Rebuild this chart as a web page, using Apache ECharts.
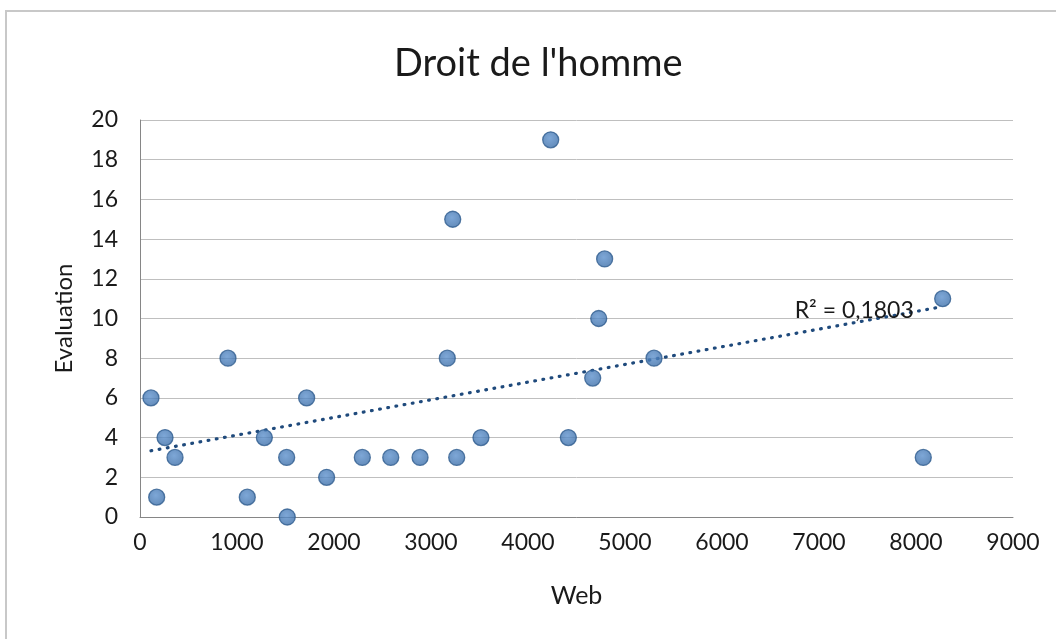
<!DOCTYPE html>
<html>
<head>
<meta charset="utf-8">
<script src="https://cdn.jsdelivr.net/npm/echarts@6/dist/echarts.min.js"></script>
<style>
  html, body { margin: 0; padding: 0; background: #ffffff; }
  #chart { width: 1056px; height: 639px; }
</style>
</head>
<body>
<div id="chart"></div>
<script>
// Web visibility vs. evaluation score
const webValues = [113, 172, 258, 361, 907, 1106, 1282, 1512, 1518, 1718, 1924,
                   2292, 2585, 2887, 3168, 3224, 3265, 3515, 4234, 4416, 4667,
                   4729, 4790, 5299, 8075, 8275];
const evalValues = [6, 1, 4, 3, 8, 1, 4, 3, 0, 6, 2,
                    3, 3, 3, 8, 15, 3, 4, 19, 4, 7,
                    10, 13, 8, 3, 11];
const xTicks = { min: 0, max: 9000, step: 1000 };
const yTicks = { min: 0, max: 20, step: 2 };
const titleText = "Droit de l'homme";
const xName = 'Web';
const yName = 'Evaluation';
const r2Text = 'R² = 0,1803';

const points = webValues.map((x, i) => [x, evalValues[i]]);

// Least-squares linear trend across the data range
const n = points.length;
const mx = webValues.reduce((a, b) => a + b, 0) / n;
const my = evalValues.reduce((a, b) => a + b, 0) / n;
let sxy = 0, sxx = 0;
for (let i = 0; i < n; i++) {
  sxy += (webValues[i] - mx) * (evalValues[i] - my);
  sxx += (webValues[i] - mx) * (webValues[i] - mx);
}
const slope = sxy / sxx;
const intercept = my - slope * mx;
const xMin = Math.min(...webValues);
const xMax = Math.max(...webValues);
const trend = [[xMin, intercept + slope * xMin], [xMax, intercept + slope * xMax]];

const font = 'Lato, "Open Sans", sans-serif';
const textColor = '#1a1a1a';

const chart = echarts.init(document.getElementById('chart'), null, { renderer: 'canvas' });
chart.setOption({
  backgroundColor: '#ffffff',
  animation: false,
  title: {
    text: titleText,
    left: 389,
    top: 40,
    textStyle: { fontFamily: font, fontSize: 38, fontWeight: 'normal', color: textColor }
  },
  grid: { left: 140, right: 43, top: 120, bottom: 122, containLabel: false },
  xAxis: {
    type: 'value',
    min: xTicks.min, max: xTicks.max, interval: xTicks.step,
    name: xName,
    nameLocation: 'middle',
    nameGap: 66,
    nameTextStyle: { fontFamily: font, fontSize: 25, color: textColor },
    axisLine: { show: true, lineStyle: { color: '#868686', width: 1 } },
    axisTick: { show: false },
    splitLine: { show: false },
    axisLabel: { fontFamily: font, fontSize: 23, color: textColor, margin: 14,
                 formatter: v => String(v) }
  },
  yAxis: {
    type: 'value',
    min: yTicks.min, max: yTicks.max, interval: yTicks.step,
    name: yName,
    nameLocation: 'middle',
    nameGap: 64,
    nameRotate: 90,
    nameTextStyle: { fontFamily: font, fontSize: 24, color: textColor },
    axisLine: { show: true, lineStyle: { color: '#868686', width: 1 } },
    axisTick: { show: false },
    splitLine: { show: true, lineStyle: { color: '#bfbfbf', width: 1 } },
    axisLabel: { fontFamily: font, fontSize: 23, color: textColor, margin: 22 }
  },
  graphic: [{
    type: 'rect',
    shape: { x: 6, y: 11, width: 1060, height: 640 },
    style: { fill: 'none', stroke: '#c8c8c8', lineWidth: 2 },
    silent: true
  }],
  series: [
    {
      name: 'Trend',
      type: 'line',
      data: trend,
      symbol: 'none',
      z: 3,
      lineStyle: { color: '#1f4a7c', width: 3.2, type: [0.8, 7.5], cap: 'round' },
      endLabel: {
        show: true,
        formatter: () => r2Text,
        position: 'left',
        offset: [-156, 4],
        fontFamily: font, fontSize: 23, color: textColor
      }
    },
    {
      name: yName,
      type: 'scatter',
      data: points,
      symbol: 'circle',
      symbolSize: 16,
      z: 4,
      itemStyle: {
        color: {
          type: 'radial', x: 0.45, y: 0.4, r: 0.6,
          colorStops: [
            { offset: 0, color: '#5d91cd' },
            { offset: 1, color: '#3c6ea8' }
          ]
        },
        borderColor: '#2f5c8f',
        borderWidth: 1.3
      }
    }
  ]
});
</script>
</body>
</html>
